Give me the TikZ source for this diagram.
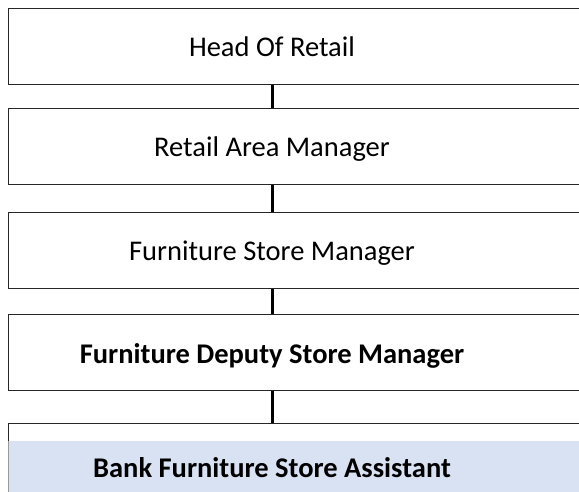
\documentclass[tikz,border=0pt]{standalone}
\usepackage{fontspec}
\setmainfont{Carlito}
\begin{document}
\begin{tikzpicture}[x=1pt,y=1pt,
  box/.style={draw=black!85, line width=1.3pt, anchor=north west, minimum width=600pt, minimum height=76pt, inner sep=0pt},
  lbl/.style={anchor=base, font=\fontsize{28.5}{32}\selectfont, inner sep=0pt},
  conn/.style={draw=black, line width=3pt}]
\useasboundingbox (0,0) rectangle (579,-492);
\clip (0,0) rectangle (579,-492);
\node[box] (b1) at (8,-8) {};
\node[box] (b2) at (8,-108) {};
\node[box] (b3) at (8,-212) {};
\node[box] (b4) at (8,-314) {};
\node[box, minimum height=100pt] (b5) at (8,-423) {};
\fill[fill={rgb,255:red,217;green,226;blue,243}] (8,-441) rectangle (600,-500);
\draw[draw=black!40, line width=1pt] (8,-441) -- (8,-500);
\node[lbl] (t1) at (272,-57) {Head Of Retail};
\node[lbl] (t2) at (272,-157) {Retail Area Manager};
\node[lbl] (t3) at (272,-261) {Furniture Store Manager};
\node[lbl, font=\fontsize{28.5}{32}\selectfont\bfseries] (t4) at (272,-363) {Furniture Deputy Store Manager};
\node[lbl, font=\fontsize{28.5}{32}\selectfont\bfseries] (t5) at (272,-477) {Bank Furniture Store Assistant};
\draw[conn] (b1.south -| t1) -- (b2.north -| t1);
\draw[conn] (b2.south -| t1) -- (b3.north -| t1);
\draw[conn] (b3.south -| t1) -- (b4.north -| t1);
\draw[conn] (b4.south -| t1) -- (b5.north -| t1);
\end{tikzpicture}
\end{document}
